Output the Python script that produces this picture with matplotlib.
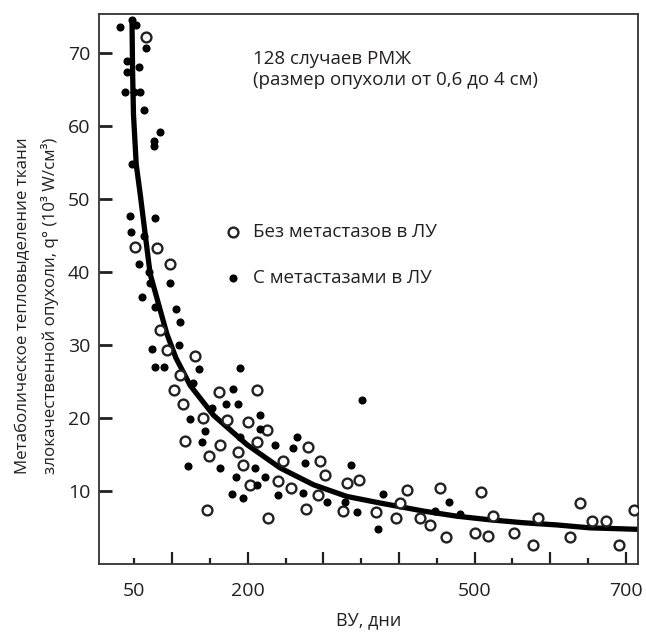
import matplotlib
matplotlib.use("Agg")
import matplotlib.pyplot as plt
from matplotlib.ticker import FixedLocator, FixedFormatter

plt.rcParams["font.family"] = ["Open Sans", "DejaVu Sans"]

# open circles: без метастазов
open_x = [65.9, 51.3, 80, 97.6, 83.4, 93.2, 130.6, 110.8, 102.8, 161.4, 212, 115.1,
          140.8, 172.4, 200.2, 225.3, 117.4, 163.6, 212.9, 280.2, 148.2, 187.8, 194.4,
          247.2, 295.7, 202.4, 240.6, 257, 301.8, 293.5, 146, 277.2, 227.4, 331, 347.6,
          325.7, 410.2, 401.4, 370, 396.1, 427.8, 441, 454.2, 462.2, 508, 500.5, 518,
          524.6, 552.4, 584.1, 577.5, 626, 639.2, 654.6, 673.5, 691, 710.5]
open_y = [72.3, 43.5, 43.4, 41.1, 32.1, 29.4, 28.6, 25.9, 23.9, 23.6, 23.9, 22,
          20.1, 19.8, 19.5, 18.4, 16.9, 16.3, 16.8, 16.1, 14.9, 15.4, 13.6,
          14.2, 14.1, 10.9, 11.4, 10.5, 12.3, 9.5, 7.4, 7.6, 6.4, 11.1, 11.6,
          7.3, 10.2, 8.4, 7.1, 6.4, 6.4, 5.4, 10.4, 3.7, 9.9, 4.3, 3.9,
          6.6, 4.3, 6.4, 2.6, 3.7, 8.4, 5.9, 5.9, 2.7, 7.4]

# filled dots: с метастазами
filled_x = [31.5, 47, 52.6, 65.9, 40.4, 55.7, 40.4, 38, 49, 58, 62.3, 83.4, 75.5, 75.5,
            47, 44.7, 77.7, 45.6, 62.3, 55.7, 68.9, 71, 97.6, 60.2, 77.7, 105.5, 110.8,
            73.4, 108.5, 77.7, 88.7, 135, 190, 128.3, 181.2, 171.4, 187.8, 152.6, 124,
            216.4, 143.8, 216.4, 190, 139.4, 236.3, 264.9, 259.5, 121.7, 163.6, 210.2,
            275.9, 184.7, 223.1, 212.1, 179.1, 194.4, 240.6, 272.9, 304.5, 350.8, 336.2,
            328.7, 345, 379, 372.7, 466.5, 447.6, 480.7]
filled_y = [73.6, 74.6, 73.9, 70.7, 68.9, 68.2, 67.5, 64.7, 64.7, 64.7, 62.3, 59.3, 58, 57.3,
            54.8, 47.7, 47.5, 45.5, 45, 41.2, 40.1, 38.5, 38.6, 36.6, 35.2, 35, 33.2,
            29.5, 30, 27, 27, 26.8, 26.9, 24.8, 24, 22, 22, 21.4, 19.9,
            20.4, 18.2, 18.6, 17.4, 16.8, 16.4, 17.5, 15.9, 13.5, 13.2, 13.2,
            13.9, 11.9, 11.9, 10.9, 9.6, 9.1, 9.5, 9.8, 8.6, 22.5, 13.6,
            8.6, 7.1, 9.7, 4.8, 8.5, 7.3, 6.9]

# fitted curve
curve_x = [47, 47.8, 49, 52.6, 57.9, 64.5, 71, 82, 93, 105, 124, 155, 199, 243,
           287, 331, 375, 401, 432, 476, 520, 564, 608, 652, 714]
curve_y = [74.5, 67.5, 61.6, 54.8, 50.7, 45.2, 39.8, 35.7, 31.6, 28.3, 24.5, 20.4,
           16.4, 13.2, 10.9, 9.3, 8.4, 7.9, 7.3, 6.6, 6.1, 5.7, 5.4, 5.0, 4.8]

major_ticks = [100, 200, 300, 400, 500, 600, 700]
major_labels = ["", "200", "", "", "500", "", "700"]
minor_ticks = [50, 150, 250, 350, 450, 550, 650]
minor_labels = ["50", "", "", "", "", "", ""]
y_ticks = [10, 20, 30, 40, 50, 60, 70]

dark = "#231f20"

fig = plt.figure(figsize=(6.46, 6.32), dpi=100)
ax = fig.add_axes([0.1528, 0.1071, 0.8348, 0.8707])

ax.plot(curve_x, curve_y, color="black", lw=3.8, solid_capstyle="round",
        solid_joinstyle="round", zorder=2)
ax.scatter(open_x, open_y, s=50, facecolors="white", edgecolors="#222222",
           linewidths=1.7, zorder=3, label="Без метастазов в ЛУ")
ax.scatter(filled_x, filled_y, s=34, color="black", linewidths=0, zorder=3,
           label="С метастазами в ЛУ")

ax.set_xlim(3, 716)
ax.set_ylim(0, 75.4)

ax.xaxis.set_major_locator(FixedLocator(major_ticks))
ax.xaxis.set_major_formatter(FixedFormatter(major_labels))
ax.xaxis.set_minor_locator(FixedLocator(minor_ticks))
ax.xaxis.set_minor_formatter(FixedFormatter(minor_labels))
ax.set_yticks(y_ticks)

ax.tick_params(axis="x", which="major", direction="in", length=8.5, width=1.6,
               color=dark, pad=13, labelsize=14, labelcolor=dark)
ax.tick_params(axis="x", which="minor", direction="in", length=4.3, width=1.6,
               color=dark, pad=13, labelsize=14, labelcolor=dark)
ax.tick_params(axis="y", direction="in", length=9, width=2, color=dark,
               pad=6, labelsize=14, labelcolor=dark)

for s in ax.spines.values():
    s.set_linewidth(1.3)
    s.set_color("#333333")

ax.set_xlabel("ВУ, дни", fontsize=13, color=dark, labelpad=8)
ax.set_ylabel("Метаболическое тепловыделение ткани\nзлокачественной опухоли, q° (10³ W/см³)",
              fontsize=12.2, color=dark, linespacing=1.7, multialignment="left")
ax.yaxis.set_label_coords(-0.074, 0.47)

ax.text(0.286, 0.935, "128 случаев РМЖ\n(размер опухоли от 0,6 до 4 см)",
        transform=ax.transAxes, ha="left", va="top", fontsize=13.5, color=dark,
        linespacing=1.25)

ax.legend(loc="upper left", bbox_to_anchor=(0.2336, 0.62), frameon=False,
          fontsize=13.5, handlelength=0.9, handletextpad=0.6, labelspacing=1.5,
          borderpad=0, borderaxespad=0, labelcolor=dark)

fig.savefig("out.png", dpi=100)
